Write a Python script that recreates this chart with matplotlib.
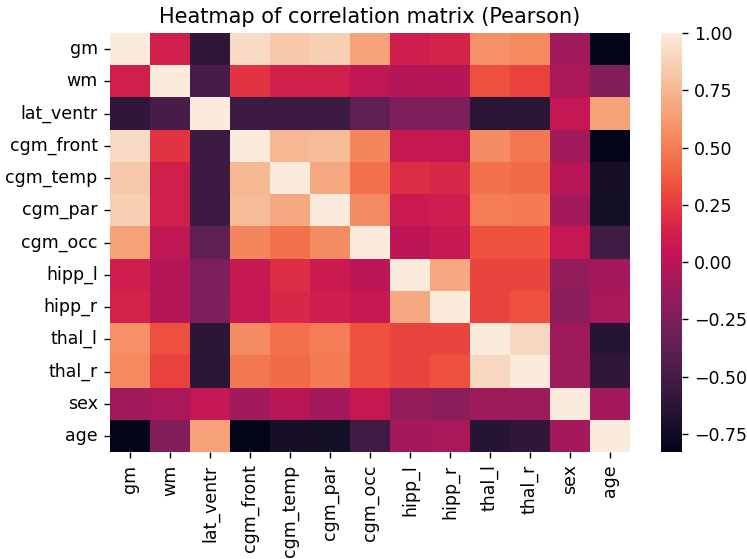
import numpy as np
import pandas as pd
import matplotlib
matplotlib.use("Agg")
import matplotlib.pyplot as plt
import seaborn as sns

variables = ["gm", "wm", "lat_ventr", "cgm_front", "cgm_temp", "cgm_par",
             "cgm_occ", "hipp_l", "hipp_r", "thal_l", "thal_r", "sex", "age"]

# Upper triangle of the Pearson correlation matrix, row by row (diagonal excluded)
r_gm        = [0.12, -0.60, 0.92, 0.83, 0.86, 0.65, 0.11, 0.14, 0.58, 0.55, -0.10, -0.82]
r_wm        = [-0.48, 0.22, 0.12, 0.12, 0.03, -0.01, -0.01, 0.33, 0.28, -0.06, -0.23]
r_lat_ventr = [-0.54, -0.53, -0.53, -0.38, -0.25, -0.25, -0.62, -0.62, 0.05, 0.65]
r_cgm_front = [0.75, 0.77, 0.54, 0.07, 0.05, 0.56, 0.48, -0.10, -0.83]
r_cgm_temp  = [0.68, 0.45, 0.19, 0.16, 0.45, 0.43, 0.00, -0.72]
r_cgm_par   = [0.56, 0.08, 0.10, 0.50, 0.49, -0.09, -0.73]
r_cgm_occ   = [0.02, 0.07, 0.34, 0.34, 0.06, -0.52]
r_hipp_l    = [0.68, 0.29, 0.29, -0.15, -0.09]
r_hipp_r    = [0.29, 0.34, -0.18, -0.06]
r_thal_l    = [0.90, -0.11, -0.65]
r_thal_r    = [-0.11, -0.60]
r_sex       = [-0.09]

upper_rows = [r_gm, r_wm, r_lat_ventr, r_cgm_front, r_cgm_temp, r_cgm_par,
              r_cgm_occ, r_hipp_l, r_hipp_r, r_thal_l, r_thal_r, r_sex]

n = len(variables)
corr = np.eye(n)
for i, row in enumerate(upper_rows):
    for k, v in enumerate(row):
        j = i + 1 + k
        corr[i, j] = v
        corr[j, i] = v
corr_df = pd.DataFrame(corr, index=variables, columns=variables)

DPI = 125
fig = plt.figure(figsize=(747 / DPI, 559 / DPI), dpi=DPI)
ax = fig.add_axes([0.147, 0.191, 0.696, 0.750])
cax = fig.add_axes([0.885, 0.191, 0.028, 0.750])

sns.heatmap(corr_df, ax=ax, cbar_ax=cax, cmap="rocket")
ax.set_title("Heatmap of correlation matrix (Pearson)")

fig.savefig("out.png", dpi=DPI)
